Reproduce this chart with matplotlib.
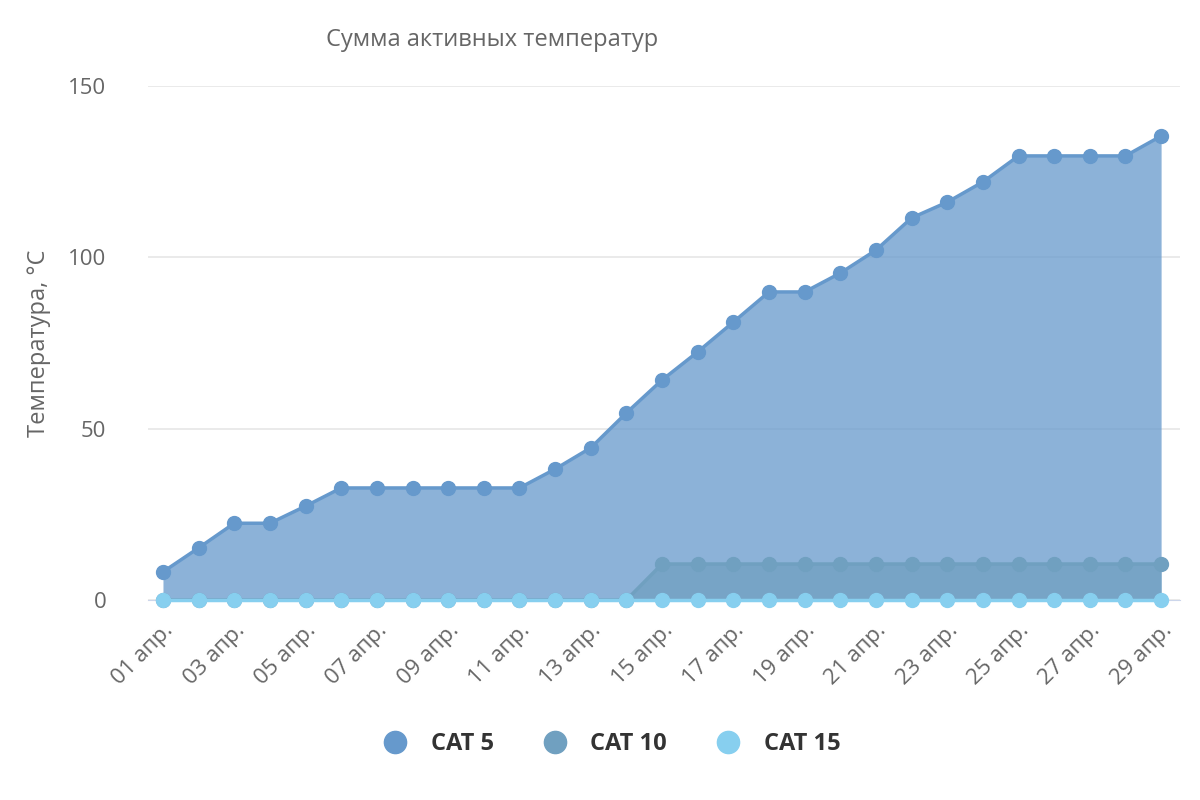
import matplotlib.pyplot as plt
from matplotlib import font_manager
from matplotlib.lines import Line2D

# data
days = [f"{d:02d} апр." for d in range(1, 30)]
cat5 = [8.2, 15.2, 22.4, 22.4, 27.4, 32.7, 32.7, 32.7, 32.7, 32.7, 32.7, 38.2, 44.4, 54.6,
        64.2, 72.4, 81.1, 89.9, 89.9, 95.4, 102.1, 111.5, 116.1, 122.0, 129.6, 129.6, 129.6,
        129.6, 135.4]
cat10 = [0] * 14 + [10.5] * 15
cat15 = [0] * 29
series_names = ["CAT 5", "CAT 10", "CAT 15"]

colors = ["#6699cc", "#70a0c0", "#87cfef"]

names = {f.name for f in font_manager.fontManager.ttflist}
fam = "Liberation Sans Narrow" if "Liberation Sans Narrow" in names else "Open Sans"
plt.rcParams['font.family'] = [fam, 'DejaVu Sans']

fig = plt.figure(figsize=(12, 8), dpi=100)
ax = fig.add_axes([148 / 1200, 1 - 600 / 800, (1180 - 148) / 1200, (600 - 86) / 800])

x = list(range(len(days)))
for i, (vals, c, name) in enumerate(zip([cat5, cat10, cat15], colors, series_names)):
    ax.fill_between(x, vals, 0, color=c, alpha=0.75, linewidth=0, zorder=1 + i)
    ax.plot(x, vals, color=c, lw=2.5, marker='o', ms=10, zorder=4 + i, label=name,
            clip_on=False)

ax.set_xlim(-0.42, 28.53)
ax.set_ylim(0, 150)
ax.set_yticks([0, 50, 100, 150])
ax.set_xticks(x[::2])
ax.set_xticklabels(days[::2], rotation=45, ha='right', rotation_mode='anchor',
                   fontsize=16, color='#666666')
ax.tick_params(axis='y', labelsize=16, labelcolor='#666666', length=0, pad=30)
ax.tick_params(axis='x', length=0, pad=14)
ax.grid(axis='y', color='#e6e6e6', lw=1.2, zorder=0)
ax.set_axisbelow(True)
for s in ['top', 'right', 'left']:
    ax.spines[s].set_visible(False)
ax.spines['bottom'].set_color('#ccd6eb')
ax.spines['bottom'].set_zorder(0)

ax.set_ylabel("Температура, °C", fontsize=17, color='#666666', labelpad=12)
fig.text(492 / 1200, 1 - 40 / 800, "Сумма активных температур", fontsize=17,
         color='#666666', ha='center', va='center')

handles = [Line2D([], [], marker='o', ls='none', ms=16, color=c) for c in colors]
fig.legend(handles, series_names, loc='center', bbox_to_anchor=(606 / 1200, 1 - 744 / 800),
           ncol=3, frameon=False, prop={'size': 17, 'weight': 'bold'},
           labelcolor='#333333', columnspacing=1.6, handletextpad=0.5)

fig.savefig("out.png", dpi=100)
